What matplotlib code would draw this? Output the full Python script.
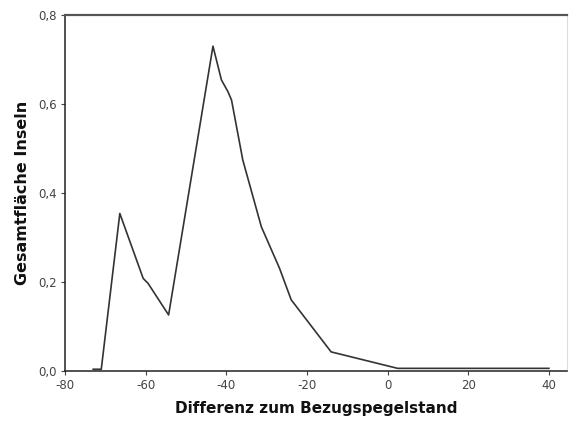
import matplotlib
matplotlib.use("Agg")
import matplotlib.pyplot as plt
from matplotlib.ticker import FuncFormatter

plt.rcParams["axes.unicode_minus"] = False

x_vals = [-73, -71, -66.4, -60.6, -59.4, -54.3, -43.3, -41.2, -39.6, -38.7,
          -35.9, -31.3, -26.8, -23.9, -14.0, 2.5, 40]
y_vals = [0.004, 0.004, 0.354, 0.208, 0.197, 0.126, 0.730, 0.654, 0.628, 0.609,
          0.474, 0.324, 0.231, 0.160, 0.043, 0.006, 0.006]
x_ticks = [-80, -60, -40, -20, 0, 20, 40]
y_ticks = [0.0, 0.2, 0.4, 0.6, 0.8]

fig = plt.figure(figsize=(5.69, 4.25), dpi=100)
ax = fig.add_axes([0.1142, 0.127, 0.8823, 0.8377])
ax.plot(x_vals, y_vals, color="#333333", lw=1.2)
ax.set_xlim(-80, 44.5)
ax.set_ylim(0, 0.8)
ax.set_xticks(x_ticks)
ax.set_yticks(y_ticks)
ax.xaxis.set_major_formatter(FuncFormatter(lambda v, p: f"{v:.0f}"))
ax.yaxis.set_major_formatter(FuncFormatter(lambda v, p: f"{v:.1f}".replace(".", ",")))
ax.tick_params(axis="both", direction="out", length=3, width=0.8, color="#444444",
               labelsize=8.5, labelcolor="#444444", pad=3)
for s in ["left", "bottom", "top"]:
    ax.spines[s].set_color("#222222")
    ax.spines[s].set_linewidth(1.1)
ax.spines["top"].set_linewidth(1.6)
ax.spines["top"].set_color("#555555")
ax.spines["right"].set_color("#dddddd")
ax.set_xlabel("Differenz zum Bezugspegelstand", fontsize=11, fontweight="bold",
              color="#111111", labelpad=6)
ax.set_ylabel("Gesamtfläche Inseln", fontsize=11.5, fontweight="bold",
              color="#111111", labelpad=6)
fig.savefig("out.png", dpi=100)
